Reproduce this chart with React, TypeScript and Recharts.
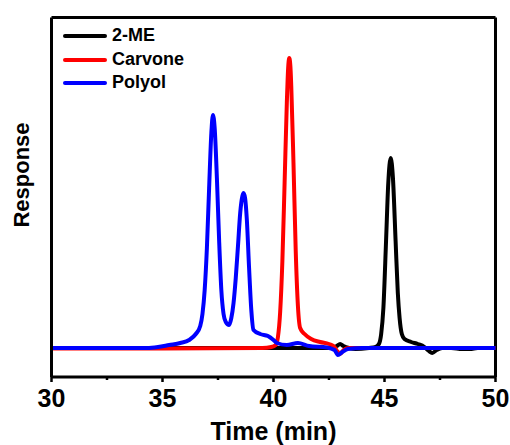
import { Label, Legend, Line, LineChart, ReferenceLine, XAxis, YAxis } from "recharts"

const FONT = "Arial, 'Liberation Sans', Helvetica, sans-serif"

// tick labels on the time axis
const majorTicks = [30, 35, 40, 45, 50]
const minorTicks = [32.5, 37.5, 42.5, 47.5]

// 2-ME (black)
const meTime = [30, 36, 40, 42.6, 42.85, 43.0, 43.15, 43.4, 43.7, 44.3, 44.6, 44.75, 44.85, 44.95, 45.07, 45.17, 45.28, 45.38, 45.5, 45.6, 45.68, 45.78, 45.9, 46.2, 46.5, 46.8, 47.0, 47.15, 47.35, 47.6, 48.0, 48.5, 48.85, 49.2, 50]
const meResp = [0, 0, 0, 0, 2, 4, 2, 0, -1, 0, 1, 4, 14, 40, 107, 165, 190, 170, 107, 55, 30, 14, 9, 6, 4, 1, -3, -5, -2, 0, 0, -1, -1, 0, 0]

// Carvone (red)
const carvTime = [30, 35, 39.5, 39.9, 40.1, 40.2, 40.3, 40.4, 40.5, 40.6, 40.66, 40.71, 40.76, 40.8, 40.9, 41.0, 41.1, 41.2, 41.4, 41.7, 42.1, 42.5, 42.7, 42.9, 43.0, 43.15, 43.4, 44, 47, 50]
const carvResp = [-0.5, -0.5, 0, 1, 3, 11, 36, 87, 165, 245, 280, 290, 282, 262, 185, 98, 42, 20, 14, 9, 6, 4, 2, -4, -6, -2, 0, 0, 0, 0]

// Polyol (blue)
const polyTime = [30, 34.3, 34.8, 35.3, 35.8, 36.2, 36.5, 36.7, 36.8, 36.9, 37.0, 37.1, 37.2, 37.27, 37.35, 37.45, 37.55, 37.65, 37.75, 37.85, 38.0, 38.1, 38.2, 38.3, 38.4, 38.5, 38.6, 38.65, 38.72, 38.8, 38.9, 39.0, 39.1, 39.4, 39.75, 40.0, 40.15, 40.6, 41.1, 41.6, 42.4, 42.75, 42.9, 43.1, 43.35, 44, 50]
const polyResp = [0, 0, 1, 3, 5, 8, 14, 22, 34, 58, 100, 160, 215, 233, 220, 170, 108, 58, 34, 26, 23, 30, 45, 70, 102, 135, 152, 155, 150, 128, 80, 38, 18, 14, 12, 8, 5, 3, 5, 2, 0.5, -2, -7, -4, -1, 0, 0]

const toRows = (t: number[], v: number[]) => t.map((time, i) => ({ time, resp: v[i] }))

const series = [
  { name: "2-ME", color: "#000000", data: toRows(meTime, meResp) },
  { name: "Carvone", color: "#ff0000", data: toRows(carvTime, carvResp) },
  { name: "Polyol", color: "#0000ff", data: toRows(polyTime, polyResp) },
]

const TimeTick = ({ x, y, payload }: any) => {
  const major = majorTicks.includes(payload.value)
  const axisY = y - 12
  return (
    <g>
      <line x1={x} x2={x} y1={axisY} y2={axisY + (major ? 5 : 3)} stroke="#000" strokeWidth={2.5} />
      {major && (
        <text x={x} y={y} dy="0.71em" textAnchor="middle" fontFamily={FONT} fontWeight="bold" fontSize={25} fill="#000">
          {payload.value}
        </text>
      )}
    </g>
  )
}

const LegendBox = () => (
  <div style={{ fontFamily: FONT, fontWeight: "bold", fontSize: 18, color: "#000" }}>
    {series.map((s) => (
      <div key={s.name} style={{ display: "flex", alignItems: "center", height: 23.5, lineHeight: "23.5px" }}>
        <div style={{ width: 44, height: 4, borderRadius: 2, background: s.color, marginRight: 5 }} />
        <span>{s.name}</span>
      </div>
    ))}
  </div>
)

export default function App() {
  return (
    <div style={{ position: "absolute", left: 0, top: 0, width: 510, height: 445, background: "#fff" }}>
      <LineChart width={510} height={445} margin={{ top: 17.5, right: 14.5, bottom: 0, left: 0 }}>
        <XAxis
          dataKey="time"
          type="number"
          domain={[30, 50]}
          ticks={[...majorTicks, ...minorTicks].sort((a, b) => a - b)}
          interval={0}
          height={68}
          tickSize={5}
          tickMargin={7}
          tickLine={false}
          tick={<TimeTick />}
          axisLine={{ stroke: "#000", strokeWidth: 3 }}
        >
          <Label
            content={(props: any) => {
              const vb = props.viewBox || { x: 51.5, y: 377, width: 444, height: 68 }
              return (
                <text x={vb.x + vb.width / 2} y={vb.y + vb.height - 5} textAnchor="middle" fontFamily={FONT} fontWeight="bold" fontSize={25} fill="#000">
                  Time (min)
                </text>
              )
            }}
          />
        </XAxis>
        <YAxis
          type="number"
          domain={[-29, 330.5]}
          width={51.5}
          tick={false}
          tickLine={false}
          axisLine={{ stroke: "#000", strokeWidth: 3 }}
        >
          <Label
            content={() => (
              <text x={29} y={175} transform="rotate(-90 29 175)" textAnchor="middle" fontFamily={FONT} fontWeight="bold" fontSize={22} fill="#000">
                Response
              </text>
            )}
          />
        </YAxis>
        <ReferenceLine y={330.5} stroke="#000" strokeWidth={3} />
        <ReferenceLine x={50} stroke="#000" strokeWidth={3} />
        {series.map((s) => (
          <Line
            key={s.name}
            data={s.data}
            dataKey="resp"
            name={s.name}
            type="monotone"
            stroke={s.color}
            strokeWidth={4}
            dot={false}
            activeDot={false}
            isAnimationActive={false}
          />
        ))}
        <Legend
          layout="vertical"
          align="center"
          verticalAlign="middle"
          content={<LegendBox />}
          wrapperStyle={{ left: 63, top: 24.25, width: 140, height: 72 }}
        />
      </LineChart>
    </div>
  )
}
